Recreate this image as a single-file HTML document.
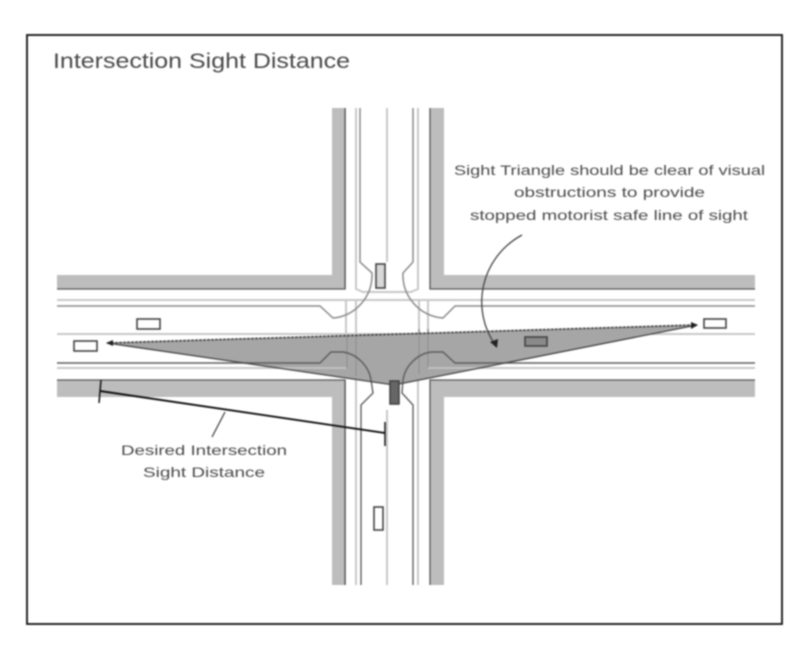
<!DOCTYPE html>
<html><head><meta charset="utf-8"><style>
html,body{margin:0;padding:0;background:#fff}
svg{display:block;filter:blur(.8px)}
text{font-family:"Liberation Sans",sans-serif;fill:#4a4a4a}
</style></head><body>
<svg width="805" height="663" viewBox="0 0 805 663" xmlns="http://www.w3.org/2000/svg">
<rect width="805" height="663" fill="#fff"/>
<rect x="27" y="35" width="755" height="589" fill="#fff" stroke="#111" stroke-width="1.8"/>
<!-- sidewalks -->
<g fill="#bdbdbd">
<path d="M57 275H332V108H346V289H57Z"/>
<path d="M755 275H444V108H430V289H755Z"/>
<path d="M57 397H332V585H346V380H57Z"/>
<path d="M755 397H444V585H430V380H755Z"/>
</g>
<g fill="none" stroke="#555" stroke-width="1.3">
<path d="M57 289H345V108"/><path d="M755 289H430V108"/>
<path d="M57 380H345V585"/><path d="M755 380H430V585"/>
</g>
<!-- light lane lines -->
<g fill="none" stroke="#c8c8c8" stroke-width="2">
<path d="M57 300H346V368H57"/><path d="M755 300H428V368H755"/>
<path d="M57 334H755"/>
<path d="M356 108V289L363 292H411L418 289V108"/>
<path d="M356 585V380M418 585V380"/>
<path d="M356 300V368M419 300V368"/>
<path d="M346 300H428"/>
<path d="M387 108V262M387 410V585"/>
</g>
<!-- sight triangle -->
<path d="M107 343L697 325L394 385Z" fill="#a6a6a6"/>
<g fill="none" stroke="#959595" stroke-width="1.5">
<path d="M347 336V368M356 336V376M419 329V374M428 329V368"/>
<path d="M57 368H346M428 368H755" stroke="#c8c8c8"/>
</g>
<g fill="none" stroke="#777" stroke-width="1.5">
<path d="M360 108V262L372 273C373 296 356 316 333 318L320 306H57" stroke="#8a8a8a"/>
<path d="M413 108V262L403 273C402 296 419 316 443 318L455 306H755" stroke="#8a8a8a"/>
</g>
<g fill="none" stroke="#5e5e5e" stroke-width="1.4">
<path d="M57 363H320L331 352H343C357 354 369 366 371 380L373 393L361 405V585"/>
<path d="M755 363H455L443 352H431C417 354 405 366 403 380L402 393L413 405V585"/>
</g>
<!-- triangle outline -->
<path d="M107 343L697 325" fill="none" stroke="#444" stroke-width="1.6" stroke-dasharray="3 1"/>
<path d="M107 343L394 385L697 325" fill="none" stroke="#444" stroke-width="1.3"/>
<path d="M113 340L106 343L113 346Z" fill="#222"/>
<path d="M691 322L698 325L691 329Z" fill="#222"/>
<!-- vehicles -->
<g stroke="#444" stroke-width="1.6">
<rect x="376" y="264" width="9" height="24" fill="#d8d8d8"/>
<rect x="137" y="319" width="23" height="10" fill="#fff"/>
<rect x="74" y="341" width="23" height="10" fill="#fff"/>
<rect x="704" y="319" width="22" height="9" fill="#fff"/>
<rect x="525" y="337" width="22" height="9" fill="#8a8a8a"/>
<rect x="390" y="381" width="9" height="23" fill="#666"/>
<rect x="374" y="507" width="9" height="23" fill="#fff"/>
</g>
<!-- dimension -->
<g fill="none" stroke="#111" stroke-width="1.9">
<path d="M101 380L99 403" stroke-width="1.5"/><path d="M100 391L385 433"/><path d="M385 422V446" stroke-width="1.5"/>
<path d="M225 412L212 437" stroke="#444" stroke-width="1.3"/>
</g>
<path d="M522 235C480 258 470 310 496 346" fill="none" stroke="#444" stroke-width="1.3"/>
<path d="M490 342L497 348L498 339Z" fill="#222"/>
<!-- text -->
<text x="53" y="68" font-size="21" textLength="297" lengthAdjust="spacingAndGlyphs">Intersection Sight Distance</text>
<g font-size="14">
<text x="454" y="175" textLength="311" lengthAdjust="spacingAndGlyphs">Sight Triangle should be clear of visual</text>
<text x="514" y="197" textLength="191" lengthAdjust="spacingAndGlyphs">obstructions to provide</text>
<text x="470" y="220" textLength="278" lengthAdjust="spacingAndGlyphs">stopped motorist safe line of sight</text>
<text x="121" y="455" textLength="166" lengthAdjust="spacingAndGlyphs">Desired Intersection</text>
<text x="143" y="477" textLength="122" lengthAdjust="spacingAndGlyphs">Sight Distance</text>
</g>
</svg>
</body></html>
